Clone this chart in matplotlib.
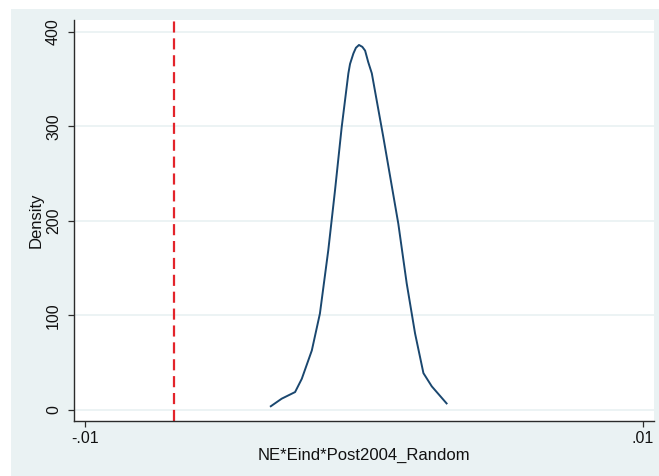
import matplotlib
matplotlib.use('Agg')
import matplotlib.pyplot as plt
from matplotlib.patches import Rectangle

#-----------------------------------------------------------
# density curve
x_val=[-0.00334, -0.00295, -0.00247, -0.00223, -0.00187, -0.00158, -0.00128, -0.00104,
	-0.00080, -0.00056, -0.00050, -0.00038, -0.00029, -0.00018, -0.00006, 0.00004,
	0.00015, 0.00028, 0.00039, 0.00069, 0.00123, 0.00153, 0.00183, 0.00213, 0.00243,
	0.00296]
y_val=[4, 12, 19, 33, 63, 102, 169, 232, 299, 356, 366, 377, 383, 386, 384, 380,
	368, 356, 338, 289, 197, 134, 81, 39, 25, 7]
x_ref=-0.0068
y_ticks=[0, 100, 200, 300, 400]
x_ticks=[-0.01, 0.01]
x_ticklabels=['-.01', '.01']
x_title='NE*Eind*Post2004_Random'
y_title='Density'

#----------------------------------------------------------
plt.rcParams['font.family']=['Liberation Sans', 'DejaVu Sans']
W, H=659, 476
c_bg='#EAF2F3'

fig=plt.figure(figsize=(W/100, H/100), dpi=100)
fig.patch.set_facecolor('white')
fig.patches.append(Rectangle((11/W, 0), 1-11/W, (H-9)/H, transform=fig.transFigure,
	facecolor=c_bg, edgecolor='none', zorder=-10))

ax=fig.add_axes([74/W, (H-421)/H, 580/W, 401/H])
ax.set_facecolor('white')

ax.plot(x_val, y_val, color='#1A476F', lw=1.4, zorder=3, solid_joinstyle='round')
ax.axvline(x_ref, color='#E3242B', lw=1.6, ls=(0, (5, 2.6)), zorder=2)

ax.set_xlim(-0.010394, 0.010394)
ax.set_ylim(-11.6, 412.4)
ax.set_yticks(y_ticks)
ax.set_yticklabels([str(i) for i in y_ticks], rotation=90, va='center')
ax.set_xticks(x_ticks)
ax.set_xticklabels(x_ticklabels)
for y in y_ticks:
	ax.axhline(y, color=c_bg, lw=1.3, zorder=1)

for s in ['top', 'right']:
	ax.spines[s].set_visible(False)
for s in ['left', 'bottom']:
	ax.spines[s].set_color('#2b2b2b')
	ax.spines[s].set_linewidth(1.0)
ax.tick_params(axis='both', direction='out', length=4.3, width=0.9, color='#2b2b2b',
	labelsize=11.5, labelcolor='#111111')
ax.tick_params(axis='y', pad=5)
ax.tick_params(axis='x', pad=3)

ax.set_xlabel(x_title, fontsize=12, color='#111111')
ax.set_ylabel(y_title, fontsize=12, color='#111111')
ax.xaxis.set_label_coords(0.5, -0.086)
ax.xaxis.label.set_va('center')
ax.yaxis.set_label_coords(-0.0655, 0.5)
ax.yaxis.label.set_va('center')

plt.savefig('out.png', dpi=100, facecolor=fig.get_facecolor())
plt.close()
